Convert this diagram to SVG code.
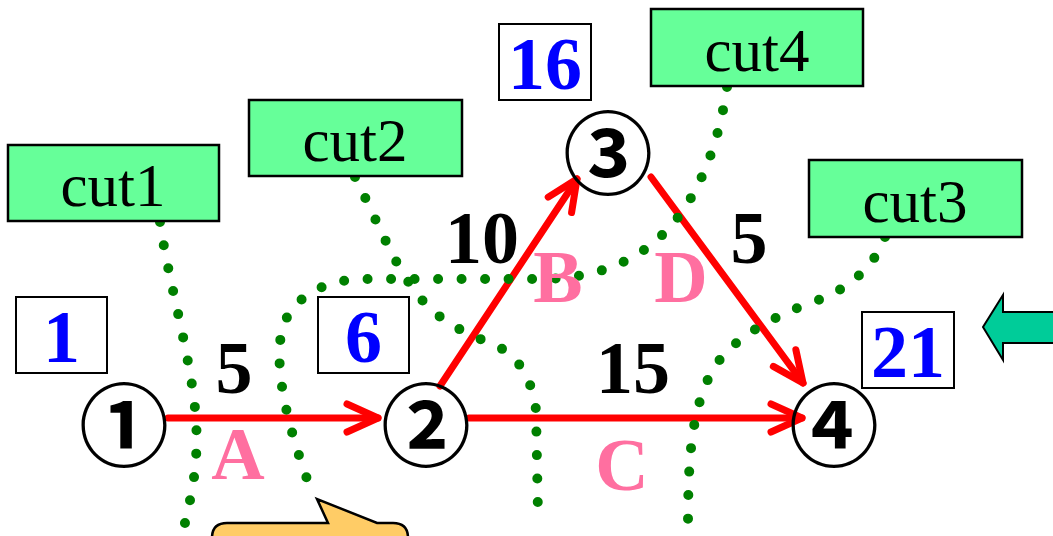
<svg xmlns="http://www.w3.org/2000/svg" width="1053" height="536" viewBox="0 0 1053 536">
<style>
.cutbox{fill:#66FF99;stroke:#000;stroke-width:2.5}
.cuttxt{font-family:"Liberation Serif","Times New Roman",serif;font-size:61px;fill:#000;text-anchor:middle}
.valbox{fill:#fff;stroke:#000;stroke-width:2}
.valtxt{font-family:"Liberation Serif","Times New Roman",serif;font-size:74px;font-weight:bold;fill:#0000FF;text-anchor:middle}
.wt{font-family:"Liberation Serif","Times New Roman",serif;font-size:74px;font-weight:bold;fill:#000;text-anchor:middle}
.lbl{font-family:"Liberation Serif","Times New Roman",serif;font-size:74px;font-weight:bold;fill:#FF6FA0;text-anchor:middle}
.node{font-family:"Noto Sans CJK JP","Noto Sans CJK SC",sans-serif;font-size:90px;font-weight:bold;fill:#000;text-anchor:middle;dominant-baseline:central}
.edge{stroke:#FF0000;stroke-width:7;fill:none;stroke-linecap:round;marker-end:url(#arr)}
.cut{stroke:#008000;stroke-width:10;fill:none;stroke-linecap:round;stroke-dasharray:0 23.5}
</style>
<defs>
<marker id="arr" markerUnits="userSpaceOnUse" viewBox="-40 -20 50 40" refX="0" refY="0" markerWidth="50" markerHeight="40" orient="auto" overflow="visible">
<path d="M-31,-14 L0,0 L-31,14" fill="none" stroke="#FF0000" stroke-width="7" stroke-linecap="round" stroke-linejoin="round"/>
</marker>
</defs>
<rect width="1053" height="536" fill="#fff"/>

<g id="connectors">
<line class="edge" x1="168" y1="418" x2="378" y2="418"/>
<line class="edge" x1="469" y1="418" x2="802" y2="418"/>
<line class="edge" x1="440" y1="386" x2="577" y2="179"/>
<line class="edge" x1="651" y1="177" x2="803" y2="383"/>
</g>

<g id="cuts">
<path class="cut" d="M160,222 C168,280 192,360 196,420 C199,470 190,500 182,536"/>
<path class="cut" d="M355,177 C378,222 398,275 424,302 C445,325 470,335 495,345 C520,357 532,380 536,410 L538,515"/>
<path class="cut" d="M727,87 C718,150 695,205 660,237 C630,265 590,279 540,279 L360,279 C320,281 290,300 282,330 C274,365 285,420 311,490"/>
<path class="cut" d="M885,237 C875,265 850,290 810,303 C760,322 725,345 710,375 C693,410 688,450 688,525"/>
</g>

<g id="cut1"><rect class="cutbox" x="8" y="145" width="211" height="76"/><text class="cuttxt" x="113" y="206">cut1</text></g>
<g id="cut2"><rect class="cutbox" x="249" y="100" width="213" height="76"/><text class="cuttxt" x="355" y="161">cut2</text></g>
<g id="cut4"><rect class="cutbox" x="651" y="9" width="212" height="77"/><text class="cuttxt" x="757" y="71">cut4</text></g>
<g id="cut3"><rect class="cutbox" x="809" y="160" width="213" height="77"/><text class="cuttxt" x="915" y="222">cut3</text></g>

<g id="v1"><rect class="valbox" x="16" y="297" width="91" height="76"/><text class="valtxt" x="61.5" y="362">1</text></g>
<g id="v2"><rect class="valbox" x="318" y="297" width="91" height="76"/><text class="valtxt" x="363.5" y="362">6</text></g>
<g id="v3"><rect class="valbox" x="499" y="24" width="92" height="76"/><text class="valtxt" x="545" y="89">16</text></g>
<g id="v4"><rect class="valbox" x="862" y="312" width="92" height="76"/><text class="valtxt" x="908" y="377">21</text></g>

<g id="n1"><text class="node" x="124" y="420">①</text></g>
<g id="n2"><text class="node" x="426" y="420">②</text></g>
<g id="n3"><text class="node" x="608" y="148">③</text></g>
<g id="n4"><text class="node" x="834" y="420">④</text></g>

<g id="weights">
<text class="wt" x="234" y="393">5</text>
<text class="wt" x="482" y="263">10</text>
<text class="wt" x="749" y="263">5</text>
<text class="wt" x="633" y="393">15</text>
</g>
<g id="edgelabels">
<text class="lbl" x="238" y="479">A</text>
<text class="lbl" x="558" y="302">B</text>
<text class="lbl" x="622" y="490">C</text>
<text class="lbl" x="681" y="302">D</text>
</g>

<g id="arrow"><polygon points="983,327 1003,295 1003,312 1060,312 1060,343 1003,343 1003,360" fill="#00CC99" stroke="#000" stroke-width="2"/></g>
<g id="callout"><path d="M212,550 L212,538 Q212,523 227,523 L328,523 L317,499 L377,523 L393,523 Q408,523 408,538 L408,550 Z" fill="#FFCC66" stroke="#000" stroke-width="2.5"/></g>
</svg>
